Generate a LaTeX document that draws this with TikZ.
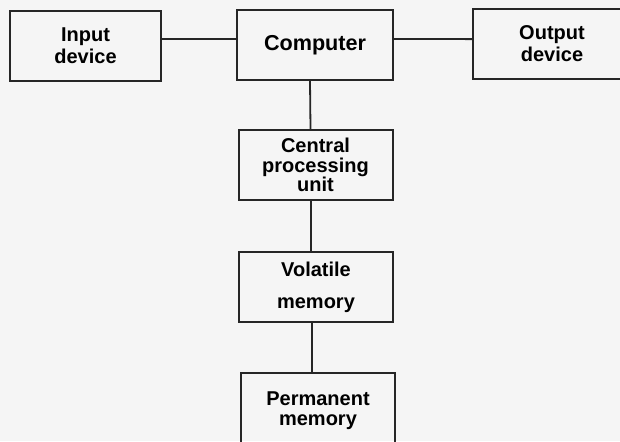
\documentclass[tikz,border=0pt]{standalone}
\usepackage{fontspec}
\setmainfont{Liberation Sans}
\usetikzlibrary{positioning}

\begin{document}
\begin{tikzpicture}[x=0.5pt,y=-0.5pt,
  unit/.style={draw=black!85,line width=1pt,minimum width=77pt,minimum height=35pt,
    inner sep=0pt,align=center,font=\bfseries\fontsize{10}{11}\selectfont},
  wire/.style={draw=black!85,line width=0.9pt}]
\fill[black!4] (0,0) rectangle (620,441);
\clip (0,0) rectangle (620,441);

\node[unit,minimum width=75.5pt] (in) at (85.5,46) {Input\\device};
\node[unit,minimum width=78pt,font=\bfseries\fontsize{10.8}{12}\selectfont] (comp) at (315,45) {Computer};
\node[unit,minimum width=79pt] (out) at (552,43.5) {Output\\device};
\node[unit,font=\bfseries\fontsize{10}{9.8}\selectfont] (cpu) at (315.5,165) {Central\\processing\\unit};
\node[unit] (vol) at (316,287) {Volatile\\[5pt]memory};
\node[unit,minimum height=38pt] (perm) at (318,411) {Permanent\\[-1pt]memory};

\draw[wire] ([yshift=3.5pt]in.east) -- ([yshift=3pt]comp.west);
\draw[wire] ([yshift=3pt]comp.east) -- ([yshift=2.2pt]out.west);
\draw[wire] ([xshift=-2.5pt]comp.south) -- ([xshift=-2.5pt]cpu.north);
\draw[wire] ([xshift=-2.25pt]cpu.south) -- ([xshift=-2.5pt]vol.north);
\draw[wire] ([xshift=-2pt]vol.south) -- ([xshift=-3pt]perm.north);
\end{tikzpicture}
\end{document}
